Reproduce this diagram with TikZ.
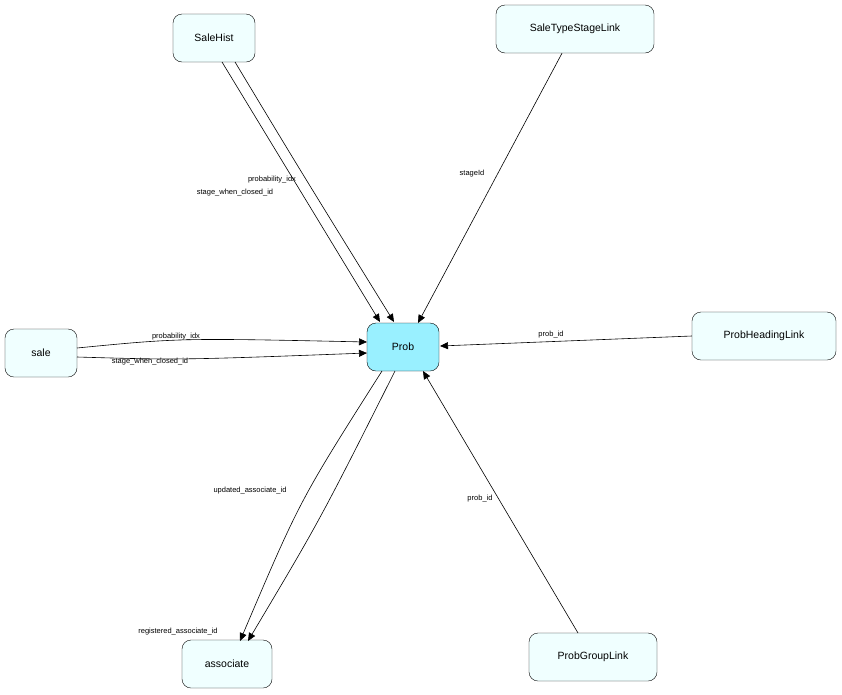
\documentclass[tikz,border=0pt]{standalone}
\usepackage{fontspec}
\setmainfont{Liberation Sans}
\usetikzlibrary{arrows.meta}
\definecolor{nfill}{HTML}{F0FFFF}
\definecolor{pfill}{HTML}{99F0FF}
\begin{document}
\begin{tikzpicture}[x=1pt,y=-1pt,
  box/.style={draw,rounded corners=9pt,fill=nfill,minimum height=48pt,font=\fontsize{10.5}{12}\selectfont,inner xsep=8pt},
  lab/.style={font=\fontsize{7.5}{9}\selectfont,inner sep=1pt},
  arr/.style={-{Triangle[length=8pt,width=7pt]},line width=0.6pt}]
\useasboundingbox (0,0) rectangle (842,694);
\node[box,fill=pfill,minimum width=72pt] (prob) at (403,347) {Prob};
\node[box,minimum width=82pt] (salehist) at (214,38) {SaleHist};
\node[box,minimum width=158pt] (stlink) at (575,29) {SaleTypeStageLink};
\node[box,minimum width=72pt] (sale) at (41,353) {sale};
\node[box,minimum width=144pt] (phl) at (764,336) {ProbHeadingLink};
\node[box,minimum width=90pt] (assoc) at (227,664) {associate};
\node[box,minimum width=128pt] (pgl) at (593,657) {ProbGroupLink};
\coordinate (s1) at (222,62); \coordinate (s2) at (235,62);
\coordinate (p1) at (380,322); \coordinate (p2) at (394,322);
\draw[arr] (s1) -- (p1);
\draw[arr] (s2) .. controls (300,170) .. (p2);
\node[lab] at (272,180) {probability\_idx};
\node[lab] at (235,193) {stage\_when\_closed\_id};
\draw[arr] (stlink.south) ++(-13,0) -- (418,323);
\node[lab] at (472,174) {stageId};
\draw[arr] (77,348) .. controls (180,338) .. (367,342);
\draw[arr] (77,357) .. controls (180,360) .. (367,353);
\node[lab] at (176,337) {probability\_idx};
\node[lab] at (150,362) {stage\_when\_closed\_id};
\draw[arr] (phl.west) -- (440,346);
\node[lab] at (551,335) {prob\_id};
\draw[arr] (578,633) -- (423,371);
\node[lab] at (480,499) {prob\_id};
\draw[arr] (382,371) .. controls (300,500) .. (240,641);
\draw[arr] (395,371) .. controls (320,520) .. (248,641);
\node[lab] at (250,491) {updated\_associate\_id};
\node[lab] at (178,632) {registered\_associate\_id};
\end{tikzpicture}
\end{document}
